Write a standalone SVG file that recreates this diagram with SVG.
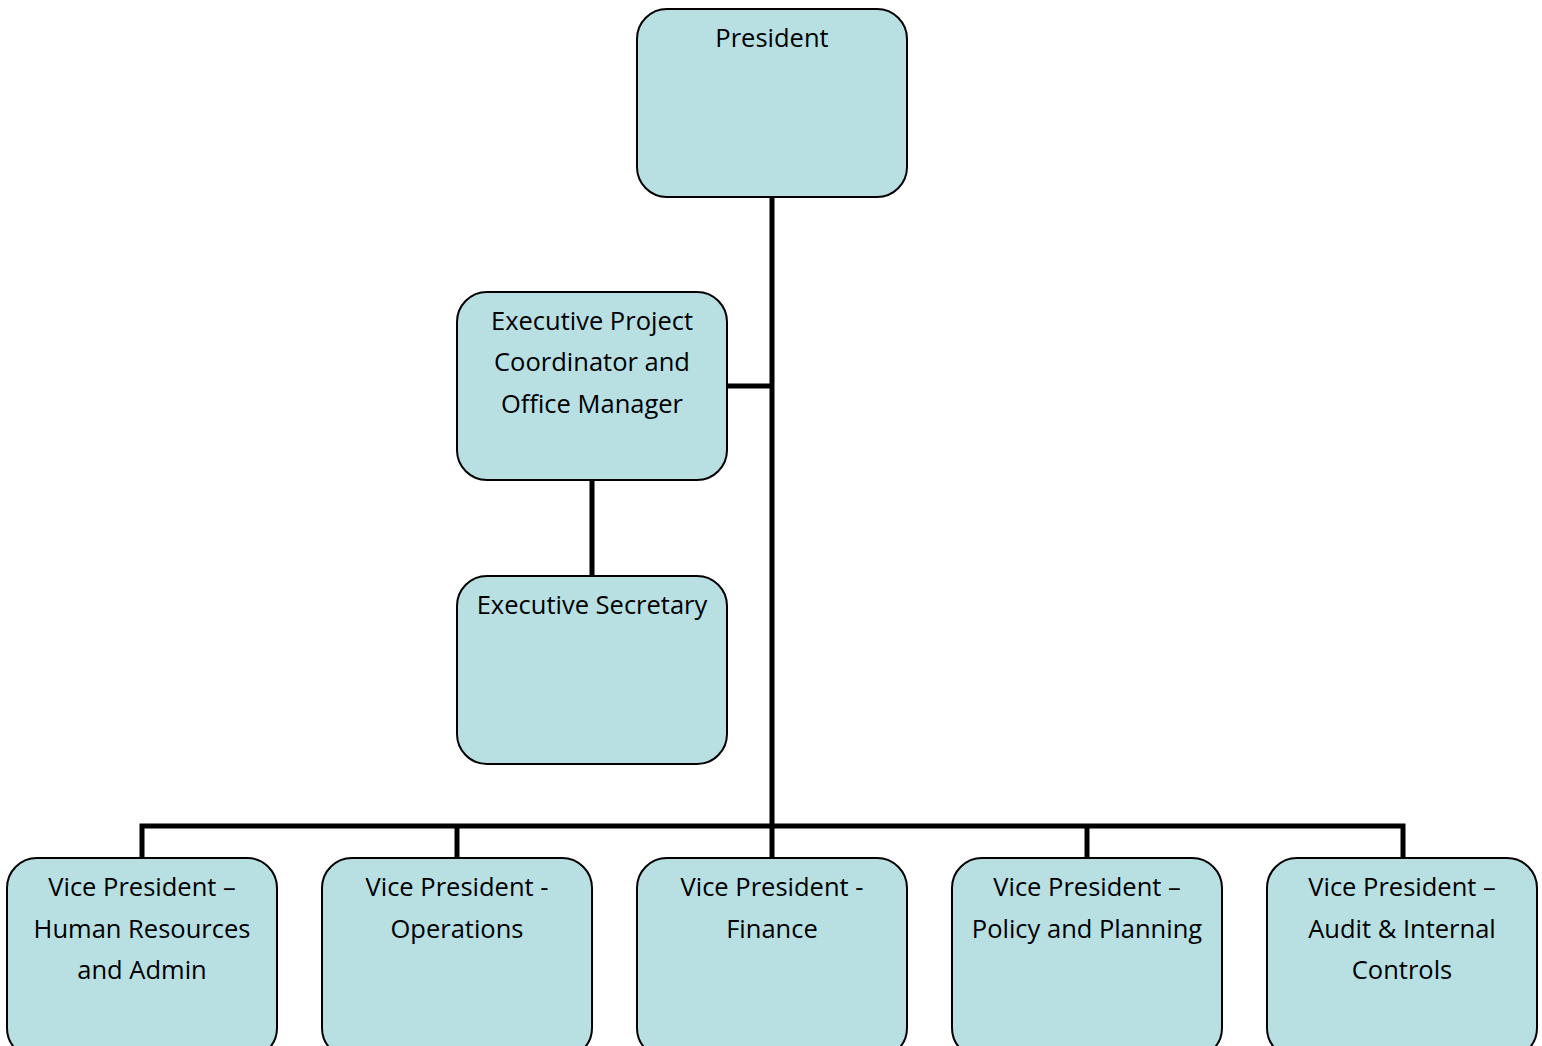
<svg xmlns="http://www.w3.org/2000/svg" width="1542" height="1046" viewBox="0 0 1542 1046">
<style>
.box{fill:#B8DFE2;stroke:#000;stroke-width:2}
.t{font-family:"Open Sans","Liberation Sans",Arial,sans-serif;font-size:25.5px;fill:#000;text-anchor:middle}
.c{stroke:#000;stroke-width:5;fill:none}
</style>
<rect width="1542" height="1046" fill="#fff"/>
<g id="connectors">
<line class="c" x1="772" y1="197" x2="772" y2="828.5"/>
<line class="c" x1="727" y1="386" x2="772" y2="386"/>
<line class="c" x1="592" y1="480" x2="592" y2="575"/>
<polyline class="c" points="142,858 142,826 1403,826 1403,858"/>
<line class="c" x1="457" y1="826" x2="457" y2="858"/>
<line class="c" x1="1087" y1="826" x2="1087" y2="858"/>
<line class="c" x1="772" y1="826" x2="772" y2="858"/>
</g>
<g id="president">
<rect class="box" x="637" y="9" width="270" height="188" rx="30"/>
<text class="t" x="772" y="47">President</text>
</g>
<g id="exec-coordinator">
<rect class="box" x="457" y="292" width="270" height="188" rx="30"/>
<text class="t" x="592" y="330">Executive Project</text>
<text class="t" x="592" y="371">Coordinator and</text>
<text class="t" x="592" y="413">Office Manager</text>
</g>
<g id="exec-secretary">
<rect class="box" x="457" y="576" width="270" height="188" rx="30"/>
<text class="t" x="592" y="614">Executive Secretary</text>
</g>
<g id="vp-hr">
<rect class="box" x="7" y="858" width="270" height="200" rx="30"/>
<text class="t" x="142" y="896">Vice President –</text>
<text class="t" x="142" y="938">Human Resources</text>
<text class="t" x="142" y="979">and Admin</text>
</g>
<g id="vp-ops">
<rect class="box" x="322" y="858" width="270" height="200" rx="30"/>
<text class="t" x="457" y="896">Vice President -</text>
<text class="t" x="457" y="938">Operations</text>
</g>
<g id="vp-fin">
<rect class="box" x="637" y="858" width="270" height="200" rx="30"/>
<text class="t" x="772" y="896">Vice President -</text>
<text class="t" x="772" y="938">Finance</text>
</g>
<g id="vp-policy">
<rect class="box" x="952" y="858" width="270" height="200" rx="30"/>
<text class="t" x="1087" y="896">Vice President –</text>
<text class="t" x="1087" y="938">Policy and Planning</text>
</g>
<g id="vp-audit">
<rect class="box" x="1267" y="858" width="270" height="200" rx="30"/>
<text class="t" x="1402" y="896">Vice President –</text>
<text class="t" x="1402" y="938">Audit &amp; Internal</text>
<text class="t" x="1402" y="979">Controls</text>
</g>
</svg>
